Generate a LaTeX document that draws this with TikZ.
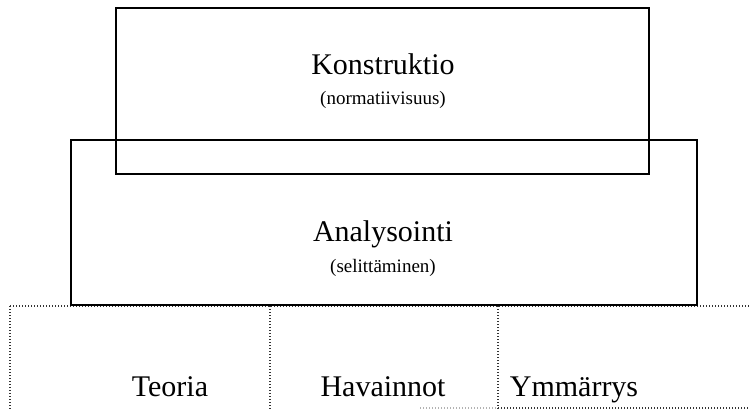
\documentclass[tikz,border=0pt]{standalone}
\usepackage{fontspec}
\setmainfont{Liberation Serif}
\usetikzlibrary{positioning}

\begin{document}
\begin{tikzpicture}[x=0.5pt,y=-0.5pt,
	box/.style={draw, line width=0.7pt, inner sep=0pt},
	cell/.style={draw=black!80, line width=0.6pt, dash pattern=on 0.5pt off 1pt},
	iso/.style={font=\fontsize{15}{18}\selectfont, inner sep=0pt},
	pieni/.style={font=\fontsize{9.5}{11}\selectfont, inner sep=0pt}]

	\useasboundingbox (0,0) rectangle (749,409);

	% taulukon katkoviivat
	\draw[cell] (10,306) -- (749,306);
	\draw[cell] (10,306) -- (10,409);
	\draw[cell] (270,306) -- (270,409);
	\draw[cell] (498,306) -- (498,409);
	\draw[cell, draw=black!30] (420,408) -- (498,408);
	\draw[cell] (498,408) -- (749,408);

	% laatikot
	\node[box, minimum width=266.5pt, minimum height=83pt] (konstruktio) at (382.5,91) {};
	\node[box, minimum width=313pt, minimum height=82.5pt] (analysointi) at (384,222.5) {};

	\node[iso] (konstruktioteksti) at (383,64) {Konstruktio};
	\node[pieni] (normatiivisuus) at (383,100) {(normatiivisuus)};
	\node[iso] (analysointiteksti) at (383,234) {Analysointi};
	\node[pieni] (selittaminen) at (383,268) {(selittäminen)};

	\node[iso, anchor=base] (teoria) at (170,396) {Teoria};
	\node[iso, anchor=base] (havainnot) at (383,396) {Havainnot};
	\node[iso, anchor=base] (ymmarrys) at (574,396) {Ymmärrys};

\end{tikzpicture}
\end{document}
